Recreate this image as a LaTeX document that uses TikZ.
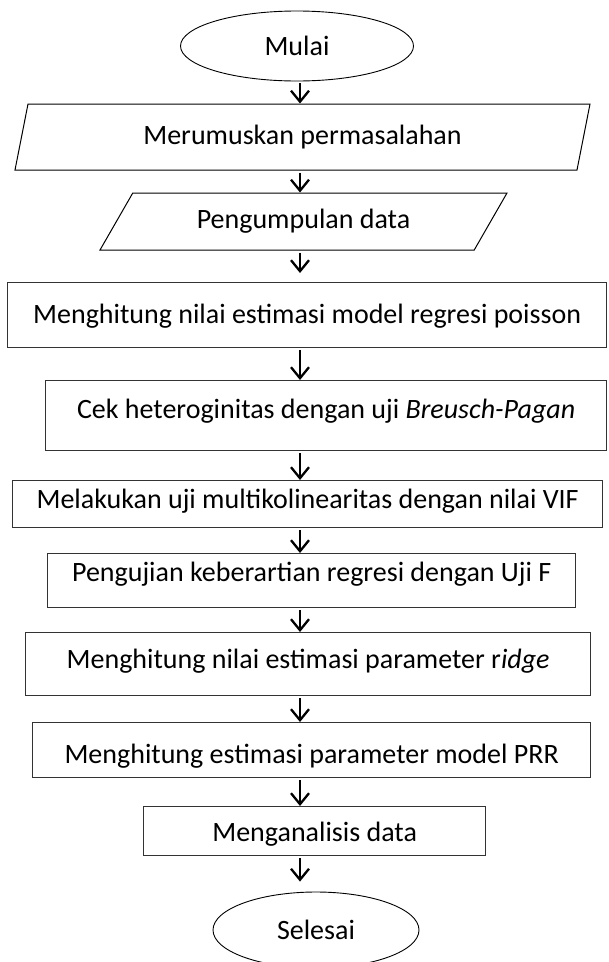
\documentclass[tikz,border=0pt]{standalone}
\usepackage{fontspec}
\setmainfont{Carlito}
\usetikzlibrary{shapes.geometric, arrows.meta, positioning}

\begin{document}
\begin{tikzpicture}[
    x=1pt, y=-1pt,
    every node/.style={font=\fontsize{28}{34}\selectfont},
    term/.style={draw, ellipse, inner sep=0pt, line width=0.9pt},
    io/.style={draw, trapezium, trapezium stretches body, inner sep=0pt, line width=1pt},
    proc/.style={draw=black!80, rectangle, inner sep=0pt, line width=1.3pt, anchor=north west},
    arrow/.style={-{Straight Barb[length=11pt,width=18pt]}, line width=2.3pt, shorten <=2pt}
]
    \useasboundingbox (0,0) rectangle (609,962);
    \coordinate (axis) at (300,0);

    \node[term, minimum width=233pt, minimum height=70pt] (start) at (297,46) {Mulai};
    \node[io, trapezium left angle=61.5, trapezium right angle=118.5,
          minimum width=575pt, minimum height=66pt] (masalah) at (302.5,137) {Merumuskan permasalahan};
    \node[io, trapezium left angle=36.5, trapezium right angle=143.5,
          minimum width=407pt, minimum height=57pt] (data) at (303.5,221.5) {Pengumpulan data};
    \node[proc, minimum width=599pt, text height=41pt, text depth=24pt] (poisson) at (7,282)
        {Menghitung nilai estimasi model regresi poisson};
    \node[proc, minimum width=561pt, text height=38pt, text depth=32pt] (hetero) at (45,380)
        {Cek heteroginitas dengan uji \textit{Breusch-Pagan}};
    \node[proc, minimum width=590pt, text height=28pt, text depth=19pt] (vif) at (12,480)
        {Melakukan uji multikolinearitas dengan nilai VIF};
    \node[proc, minimum width=528pt, text height=28pt, text depth=26pt] (ujif) at (47,553)
        {Pengujian keberartian regresi dengan Uji F};
    \node[proc, minimum width=565pt, text height=36pt, text depth=27pt] (ridge) at (25,632)
        {Menghitung nilai estimasi parameter r\textit{idge}};
    \node[proc, minimum width=558pt, text height=41pt, text depth=14pt] (prr) at (32,722)
        {Menghitung estimasi parameter model PRR};
    \node[proc, minimum width=342pt, text height=35pt, text depth=14pt] (analisis) at (143,806)
        {Menganalisis data};
    \node[term, minimum width=206pt, minimum height=76pt] (stop) at (316,930) {Selesai};

    \draw[arrow] (start.south -| axis) -- (masalah.north -| axis);
    \draw[arrow] (masalah.south -| axis) -- (data.north -| axis);
    \draw[arrow, shorten >=9pt] (data.south -| axis) -- (poisson.north -| axis);
    \draw[arrow] (poisson.south -| axis) -- (hetero.north -| axis);
    \draw[arrow] (hetero.south -| axis) -- (vif.north -| axis);
    \draw[arrow] (vif.south -| axis) -- (ujif.north -| axis);
    \draw[arrow] (ujif.south -| axis) -- (ridge.north -| axis);
    \draw[arrow] (ridge.south -| axis) -- (prr.north -| axis);
    \draw[arrow] (prr.south -| axis) -- (analisis.north -| axis);
    \draw[arrow, shorten >=10pt] (analisis.south -| axis) -- (stop.north -| axis);
\end{tikzpicture}
\end{document}
